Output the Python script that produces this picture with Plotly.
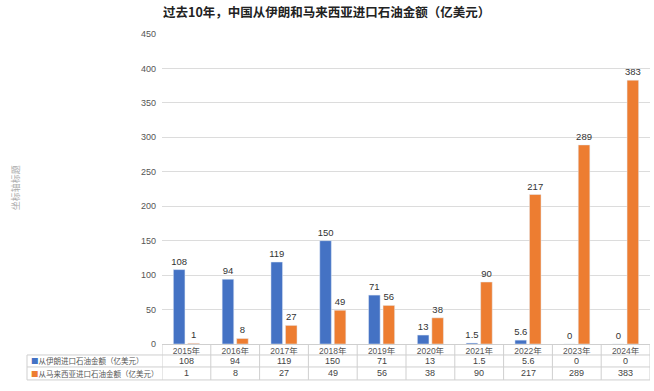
import plotly.graph_objects as go

years = ["2015年", "2016年", "2017年", "2018年", "2019年", "2020年", "2021年", "2022年", "2023年", "2024年"]
iran = [108, 94, 119, 150, 71, 13, 1.5, 5.6, 0, 0]
malaysia = [1, 8, 27, 49, 56, 38, 90, 217, 289, 383]
iran_name = "从伊朗进口石油金额（亿美元）"
malaysia_name = "从马来西亚进口石油金额（亿美元）"
title_text = "过去10年，中国从伊朗和马来西亚进口石油金额（亿美元）"
yaxis_title = "坐标轴标题"

BLUE = "#4472C4"
ORANGE = "#ED7D31"
GRID = "#dcdcdc"
TABLE = "#cfcfcf"
FONT = "Liberation Sans, Noto Sans CJK SC, sans-serif"

W, H = 654, 391
L, R, T, B = 162, 4, 33.5, 47
plot_h = H - T - B
plot_w = W - L - R


def py(pix):
    # pixel y (from top) -> paper y
    return (H - B - pix) / plot_h


def px(pix):
    return (pix - L) / plot_w


def fmt(v):
    return ("%g" % v)


fig = go.Figure()
fig.add_trace(go.Bar(
    x=years, y=iran, name=iran_name, marker_color=BLUE,
    text=[fmt(v) for v in iran], textposition="outside", constraintext="none",
    textfont=dict(size=9.5, color="#333333"), cliponaxis=False,
))
fig.add_trace(go.Bar(
    x=years, y=malaysia, name=malaysia_name, marker_color=ORANGE,
    text=[fmt(v) for v in malaysia], textposition="outside", constraintext="none",
    textfont=dict(size=9.5, color="#333333"), cliponaxis=False,
))

shapes = []
row_lines = [355, 367, 380]
for yy in row_lines:
    shapes.append(dict(type="line", xref="paper", yref="paper",
                       x0=px(27), x1=1, y0=py(yy), y1=py(yy),
                       line=dict(color=TABLE, width=1)))
# left edge of legend cells
shapes.append(dict(type="line", xref="paper", yref="paper",
                   x0=px(27), x1=px(27), y0=py(355), y1=py(380),
                   line=dict(color=TABLE, width=1)))
# column separators
for i in range(len(years) + 1):
    shapes.append(dict(type="line", xref="x", yref="paper",
                       x0=i - 0.5, x1=i - 0.5, y0=0, y1=py(380),
                       line=dict(color=TABLE, width=1)))

annotations = []
for i, yr in enumerate(years):
    annotations.append(dict(x=i, xref="x", y=py(361), yref="paper",
                            xanchor="center", yanchor="middle",
                            text=fmt(iran[i]), showarrow=False,
                            font=dict(size=9, color="#444444", family=FONT)))
    annotations.append(dict(x=i, xref="x", y=py(373.5), yref="paper",
                            xanchor="center", yanchor="middle",
                            text=fmt(malaysia[i]), showarrow=False,
                            font=dict(size=9, color="#444444", family=FONT)))
annotations.append(dict(x=px(29), xref="paper", y=py(361), yref="paper",
                        xanchor="left", yanchor="middle", showarrow=False,
                        text="<span style='color:%s'>■</span>%s" % (BLUE, iran_name),
                        font=dict(size=7.5, color="#555555", family="Noto Sans CJK SC")))
annotations.append(dict(x=px(29), xref="paper", y=py(373.5), yref="paper",
                        xanchor="left", yanchor="middle", showarrow=False,
                        text="<span style='color:%s'>■</span>%s" % (ORANGE, malaysia_name),
                        font=dict(size=7.5, color="#555555", family="Noto Sans CJK SC")))
annotations.append(dict(x=px(15), xref="paper", y=py(188), yref="paper",
                        xanchor="center", yanchor="middle",
                        text=yaxis_title, textangle=-90, showarrow=False,
                        font=dict(size=9, color="#aaaaaa", family="Noto Sans CJK SC")))

fig.update_layout(
    width=W, height=H,
    margin=dict(l=L, r=R, t=T, b=B),
    paper_bgcolor="white", plot_bgcolor="white",
    font=dict(family=FONT, size=9, color="#555555"),
    title=dict(text="<b>%s</b>" % title_text, xref="container", yref="container",
               x=163 / W, xanchor="left", y=1 - 13 / H, yanchor="middle",
               font=dict(size=12.5, color="#222222", family="Noto Sans CJK SC")),
    showlegend=False,
    barmode="group", bargap=0.406, bargroupgap=0.2,
    shapes=shapes, annotations=annotations,
)
fig.update_xaxes(type="category", range=[-0.5, 9.5], showgrid=False,
                 showline=True, linecolor=TABLE, linewidth=1,
                 ticks="", tickfont=dict(size=8.5, color="#555555"),
                 ticklabelstandoff=-1)
fig.update_yaxes(range=[0, 450], dtick=50, showgrid=True, gridcolor=GRID,
                 gridwidth=1, zeroline=False, showline=False, ticks="",
                 tickfont=dict(size=9, color="#555555"), ticklabelstandoff=5)

fig.write_html("out.html")
